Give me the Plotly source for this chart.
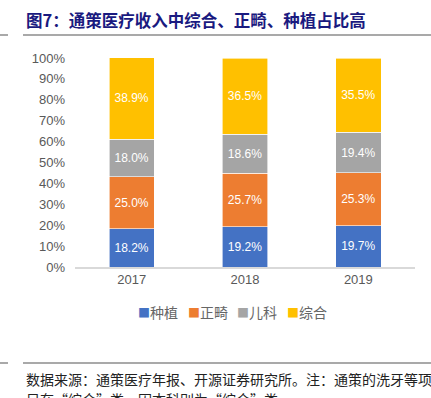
import plotly.graph_objects as go

years = ["2017", "2018", "2019"]
series_names = ["种植", "正畸", "儿科", "综合"]
zhongzhi = [18.2, 19.2, 19.7]
zhengji = [25.0, 25.7, 25.3]
erke = [18.0, 18.6, 19.4]
zonghe = [38.9, 36.5, 35.5]
colors = ["#4472C4", "#ED7D31", "#A5A5A5", "#FFC000"]

title_text = "图7：通策医疗收入中综合、正畸、种植占比高"
note_line1 = "数据来源：通策医疗年报、开源证券研究所。注：通策的洗牙等项"
note_line2 = "目在“综合”类，因本科别为“综合”类。"

W, H = 431, 398

fig = go.Figure()
for name, vals, c in zip(series_names, [zhongzhi, zhengji, erke, zonghe], colors):
    fig.add_trace(go.Bar(
        x=years, y=vals, name=name,
        marker=dict(color=c, line=dict(color="white", width=0.6)),
        text=[f"{v:.1f}%" for v in vals],
        textposition="inside", insidetextanchor="middle",
        textfont=dict(color="white", size=12, family="Liberation Sans, Arial"),
        width=0.4, showlegend=False,
    ))

fig.update_layout(
    width=W, height=H,
    margin=dict(l=0, r=0, t=0, b=0, autoexpand=False),
    paper_bgcolor="white", plot_bgcolor="white",
    barmode="stack",
    font=dict(family="Liberation Sans, Arial", color="#595959", size=12),
    xaxis=dict(domain=[75/W, 415/W], showgrid=False, showline=True,
               linecolor="#D9D9D9", linewidth=1.5, ticks="", tickfont=dict(size=13, color="#595959")),
    yaxis=dict(domain=[1-267/H, 1-58/H], range=[0, 100], dtick=10, ticksuffix="%",
               showgrid=False, zeroline=False, showline=False, ticklabelstandoff=9,
               tickfont=dict(size=13, color="#595959")),
    showlegend=False,
)

# legend drawn as text items
leg_x0, leg_step, leg_y = 136, 49.5, 312
for i, (name, c) in enumerate(zip(series_names, colors)):
    fig.add_annotation(text=f"<span style='color:{c};font-size:12px'>■</span>{name}", xref="paper", yref="paper",
                       x=(leg_x0 + i*leg_step)/W, y=1-leg_y/H, xanchor="left", yanchor="middle",
                       showarrow=False,
                       font=dict(size=14, color="#666666", family="Noto Sans CJK SC"))

fig.add_annotation(text="<b>" + title_text + "</b>", xref="paper", yref="paper",
                   x=24/W, y=1-20/H, xanchor="left", yanchor="middle", showarrow=False,
                   font=dict(size=16.5, color="#1A1A80", family="Noto Sans CJK SC"))
fig.add_annotation(text=note_line1, xref="paper", yref="paper",
                   x=24/W, y=1-379/H, xanchor="left", yanchor="middle", showarrow=False,
                   font=dict(size=14, color="#222222", family="Noto Sans CJK SC"))
fig.add_annotation(text=note_line2, xref="paper", yref="paper",
                   x=24/W, y=1-399/H, xanchor="left", yanchor="middle", showarrow=False,
                   font=dict(size=14, color="#222222", family="Noto Sans CJK SC"))

for y in [35, 363]:
    fig.add_shape(type="line", xref="paper", yref="paper",
                  x0=23/W, x1=1, y0=1-y/H, y1=1-y/H,
                  line=dict(color="#8C8C8C", width=1.5))
    fig.add_shape(type="line", xref="paper", yref="paper",
                  x0=0, x1=8/W, y0=1-y/H, y1=1-y/H,
                  line=dict(color="#8C8C8C", width=1.5))

fig.write_html("out.html", config={"displayModeBar": False},
               post_script="document.body.style.margin='0';document.body.style.overflow='hidden';")
